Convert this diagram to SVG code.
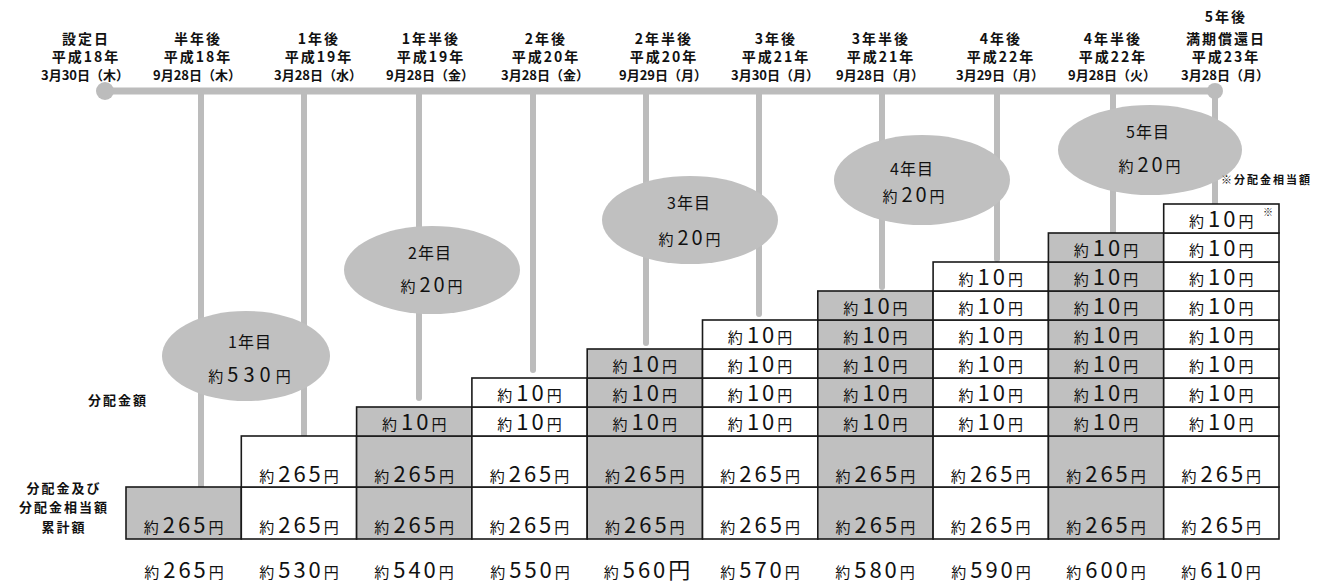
<svg xmlns="http://www.w3.org/2000/svg" width="1320" height="586" viewBox="0 0 1320 586">
<style>
text{font-family:"Noto Sans CJK JP","Noto Sans",sans-serif;fill:#111;text-anchor:middle}
.hd{font-size:14px;font-weight:bold;letter-spacing:2px}
.dt{font-size:13px;font-weight:bold}
.lb{font-size:13px;font-weight:bold;letter-spacing:2px}
.el{font-size:16px;letter-spacing:1px}
.k{font-size:15px}
.n{font-size:22px;letter-spacing:3px}
.tl{fill:none;stroke:#bcbcbc;stroke-width:6;stroke-linecap:round}
.g{fill:#c0c0c0;stroke:#1a1a1a;stroke-width:1.6}
.w{fill:#ffffff;stroke:#1a1a1a;stroke-width:1.6}
.ell{fill:#c0c0c0}
</style>

<g id="connectors">
  <line class="tl" x1="105" y1="91" x2="1215" y2="91" style="stroke-width:7"/>
  <line class="tl" x1="201" y1="91" x2="201" y2="487"/>
  <line class="tl" x1="304" y1="91" x2="304" y2="436"/>
  <line class="tl" x1="419" y1="91" x2="419" y2="398"/>
  <line class="tl" x1="533" y1="91" x2="533" y2="370"/>
  <line class="tl" x1="646" y1="91" x2="646" y2="343"/>
  <line class="tl" x1="759" y1="91" x2="759" y2="314"/>
  <line class="tl" x1="882" y1="91" x2="882" y2="287"/>
  <line class="tl" x1="997" y1="91" x2="997" y2="259"/>
  <line class="tl" x1="1113" y1="91" x2="1113" y2="233"/>
  <line class="tl" x1="1215" y1="91" x2="1215" y2="204"/>
  <circle cx="105" cy="91" r="9" fill="#bcbcbc"/>
  <circle cx="1215" cy="91" r="8" fill="#bcbcbc"/>
</g>

<g id="headers">
  <g id="h0"><text class="hd" x="86" y="44">設定日</text><text class="hd" x="86" y="62">平成18年</text><text class="dt" x="85" y="80">3月30日（木）</text></g>
  <g id="h1"><text class="hd" x="198" y="44">半年後</text><text class="hd" x="198" y="62">平成18年</text><text class="dt" x="197" y="80">9月28日（木）</text></g>
  <g id="h2"><text class="hd" x="319" y="44">1年後</text><text class="hd" x="319" y="62">平成19年</text><text class="dt" x="318" y="80">3月28日（水）</text></g>
  <g id="h3"><text class="hd" x="431" y="44">1年半後</text><text class="hd" x="431" y="62">平成19年</text><text class="dt" x="430" y="80">9月28日（金）</text></g>
  <g id="h4"><text class="hd" x="546" y="44">2年後</text><text class="hd" x="546" y="62">平成20年</text><text class="dt" x="545" y="80">3月28日（金）</text></g>
  <g id="h5"><text class="hd" x="664" y="44">2年半後</text><text class="hd" x="664" y="62">平成20年</text><text class="dt" x="663" y="80">9月29日（月）</text></g>
  <g id="h6"><text class="hd" x="776" y="44">3年後</text><text class="hd" x="776" y="62">平成21年</text><text class="dt" x="775" y="80">3月30日（月）</text></g>
  <g id="h7"><text class="hd" x="881" y="44">3年半後</text><text class="hd" x="881" y="62">平成21年</text><text class="dt" x="880" y="80">9月28日（月）</text></g>
  <g id="h8"><text class="hd" x="1001" y="44">4年後</text><text class="hd" x="1001" y="62">平成22年</text><text class="dt" x="1000" y="80">3月29日（月）</text></g>
  <g id="h9"><text class="hd" x="1113" y="44">4年半後</text><text class="hd" x="1113" y="62">平成22年</text><text class="dt" x="1112" y="80">9月28日（火）</text></g>
  <g id="h10"><text class="hd" x="1226" y="22">5年後</text><text class="hd" x="1226" y="44">満期償還日</text><text class="hd" x="1226" y="62">平成23年</text><text class="dt" x="1225" y="80">3月28日（月）</text></g>
</g>

<g id="ellipses">
  <g id="e1"><ellipse class="ell" cx="246" cy="356" rx="84" ry="45"/><text class="el" x="250" y="348">1年目</text><text class="el" x="250" y="382"><tspan class="k">約</tspan><tspan class="n" dx="3" style="font-size:20px;letter-spacing:5px">530</tspan><tspan class="k">円</tspan></text></g>
  <g id="e2"><ellipse class="ell" cx="432" cy="270" rx="88" ry="44"/><text class="el" x="430" y="259">2年目</text><text class="el" x="432" y="292"><tspan class="k">約</tspan><tspan style="font-size:20px;letter-spacing:3px" dx="3">20</tspan><tspan class="k">円</tspan></text></g>
  <g id="e3"><ellipse class="ell" cx="690" cy="220" rx="88" ry="44"/><text class="el" x="689" y="209">3年目</text><text class="el" x="690" y="245"><tspan class="k">約</tspan><tspan style="font-size:20px;letter-spacing:3px" dx="3">20</tspan><tspan class="k">円</tspan></text></g>
  <g id="e4"><ellipse class="ell" cx="922" cy="180" rx="88" ry="45"/><text class="el" x="912" y="175">4年目</text><text class="el" x="914" y="202"><tspan class="k">約</tspan><tspan style="font-size:20px;letter-spacing:3px" dx="3">20</tspan><tspan class="k">円</tspan></text></g>
  <g id="e5"><ellipse class="ell" cx="1150" cy="150" rx="92" ry="45"/><text class="el" x="1148" y="138">5年目</text><text class="el" x="1150" y="172"><tspan class="k">約</tspan><tspan style="font-size:20px;letter-spacing:3px" dx="3">20</tspan><tspan class="k">円</tspan></text></g>
</g>

<g id="labels">
  <text class="lb" x="118" y="405">分配金額</text>
  <text class="lb" x="64" y="493">分配金及び</text>
  <text class="lb" x="64" y="512">分配金相当額</text>
  <text class="lb" x="64" y="532">累計額</text>
  <text x="1221" y="184" style="font-size:11px;font-weight:bold;letter-spacing:2px;text-anchor:start">※分配金相当額</text>
</g>

<g id="grid">
  <g id="c0">
    <rect class="g" x="126" y="487" width="115.3" height="52"/>
    <text x="183.6" y="533"><tspan class="k">約</tspan><tspan class="n" dx="4">265</tspan><tspan class="k">円</tspan></text>
  </g>
  <g id="c1">
    <rect class="w" x="241.3" y="487" width="115.3" height="52"/>
    <rect class="w" x="241.3" y="436" width="115.3" height="51"/>
    <text x="299" y="533"><tspan class="k">約</tspan><tspan class="n" dx="4">265</tspan><tspan class="k">円</tspan></text>
    <text x="299" y="482"><tspan class="k">約</tspan><tspan class="n" dx="4">265</tspan><tspan class="k">円</tspan></text>
  </g>
  <g id="c2">
    <rect class="g" x="356.6" y="487" width="115.3" height="52"/>
    <rect class="g" x="356.6" y="436" width="115.3" height="51"/>
    <rect class="g" x="356.6" y="407" width="115.3" height="29"/>
    <text x="414.2" y="533"><tspan class="k">約</tspan><tspan class="n" dx="4">265</tspan><tspan class="k">円</tspan></text>
    <text x="414.2" y="482"><tspan class="k">約</tspan><tspan class="n" dx="4">265</tspan><tspan class="k">円</tspan></text>
    <text x="414.2" y="430"><tspan class="k">約</tspan><tspan class="n" dx="4">10</tspan><tspan class="k">円</tspan></text>
  </g>
  <g id="c3">
    <rect class="w" x="471.9" y="487" width="115.3" height="52"/>
    <rect class="w" x="471.9" y="436" width="115.3" height="51"/>
    <rect class="w" x="471.9" y="407" width="115.3" height="29"/>
    <rect class="w" x="471.9" y="378" width="115.3" height="29"/>
    <text x="529.5" y="533"><tspan class="k">約</tspan><tspan class="n" dx="4">265</tspan><tspan class="k">円</tspan></text>
    <text x="529.5" y="482"><tspan class="k">約</tspan><tspan class="n" dx="4">265</tspan><tspan class="k">円</tspan></text>
    <text x="529.5" y="430"><tspan class="k">約</tspan><tspan class="n" dx="4">10</tspan><tspan class="k">円</tspan></text>
    <text x="529.5" y="401"><tspan class="k">約</tspan><tspan class="n" dx="4">10</tspan><tspan class="k">円</tspan></text>
  </g>
  <g id="c4">
    <rect class="g" x="587.2" y="487" width="115.3" height="52"/>
    <rect class="g" x="587.2" y="436" width="115.3" height="51"/>
    <rect class="g" x="587.2" y="407" width="115.3" height="29"/>
    <rect class="g" x="587.2" y="378" width="115.3" height="29"/>
    <rect class="g" x="587.2" y="349" width="115.3" height="29"/>
    <text x="644.8" y="533"><tspan class="k">約</tspan><tspan class="n" dx="4">265</tspan><tspan class="k">円</tspan></text>
    <text x="644.8" y="482"><tspan class="k">約</tspan><tspan class="n" dx="4">265</tspan><tspan class="k">円</tspan></text>
    <text x="644.8" y="430"><tspan class="k">約</tspan><tspan class="n" dx="4">10</tspan><tspan class="k">円</tspan></text>
    <text x="644.8" y="401"><tspan class="k">約</tspan><tspan class="n" dx="4">10</tspan><tspan class="k">円</tspan></text>
    <text x="644.8" y="372"><tspan class="k">約</tspan><tspan class="n" dx="4">10</tspan><tspan class="k">円</tspan></text>
  </g>
  <g id="c5">
    <rect class="w" x="702.5" y="487" width="115.3" height="52"/>
    <rect class="w" x="702.5" y="436" width="115.3" height="51"/>
    <rect class="w" x="702.5" y="407" width="115.3" height="29"/>
    <rect class="w" x="702.5" y="378" width="115.3" height="29"/>
    <rect class="w" x="702.5" y="349" width="115.3" height="29"/>
    <rect class="w" x="702.5" y="320" width="115.3" height="29"/>
    <text x="760.1" y="533"><tspan class="k">約</tspan><tspan class="n" dx="4">265</tspan><tspan class="k">円</tspan></text>
    <text x="760.1" y="482"><tspan class="k">約</tspan><tspan class="n" dx="4">265</tspan><tspan class="k">円</tspan></text>
    <text x="760.1" y="430"><tspan class="k">約</tspan><tspan class="n" dx="4">10</tspan><tspan class="k">円</tspan></text>
    <text x="760.1" y="401"><tspan class="k">約</tspan><tspan class="n" dx="4">10</tspan><tspan class="k">円</tspan></text>
    <text x="760.1" y="372"><tspan class="k">約</tspan><tspan class="n" dx="4">10</tspan><tspan class="k">円</tspan></text>
    <text x="760.1" y="343"><tspan class="k">約</tspan><tspan class="n" dx="4">10</tspan><tspan class="k">円</tspan></text>
  </g>
  <g id="c6">
    <rect class="g" x="817.8" y="487" width="115.3" height="52"/>
    <rect class="g" x="817.8" y="436" width="115.3" height="51"/>
    <rect class="g" x="817.8" y="407" width="115.3" height="29"/>
    <rect class="g" x="817.8" y="378" width="115.3" height="29"/>
    <rect class="g" x="817.8" y="349" width="115.3" height="29"/>
    <rect class="g" x="817.8" y="320" width="115.3" height="29"/>
    <rect class="g" x="817.8" y="291" width="115.3" height="29"/>
    <text x="875.4" y="533"><tspan class="k">約</tspan><tspan class="n" dx="4">265</tspan><tspan class="k">円</tspan></text>
    <text x="875.4" y="482"><tspan class="k">約</tspan><tspan class="n" dx="4">265</tspan><tspan class="k">円</tspan></text>
    <text x="875.4" y="430"><tspan class="k">約</tspan><tspan class="n" dx="4">10</tspan><tspan class="k">円</tspan></text>
    <text x="875.4" y="401"><tspan class="k">約</tspan><tspan class="n" dx="4">10</tspan><tspan class="k">円</tspan></text>
    <text x="875.4" y="372"><tspan class="k">約</tspan><tspan class="n" dx="4">10</tspan><tspan class="k">円</tspan></text>
    <text x="875.4" y="343"><tspan class="k">約</tspan><tspan class="n" dx="4">10</tspan><tspan class="k">円</tspan></text>
    <text x="875.4" y="314"><tspan class="k">約</tspan><tspan class="n" dx="4">10</tspan><tspan class="k">円</tspan></text>
  </g>
  <g id="c7">
    <rect class="w" x="933.1" y="487" width="115.3" height="52"/>
    <rect class="w" x="933.1" y="436" width="115.3" height="51"/>
    <rect class="w" x="933.1" y="407" width="115.3" height="29"/>
    <rect class="w" x="933.1" y="378" width="115.3" height="29"/>
    <rect class="w" x="933.1" y="349" width="115.3" height="29"/>
    <rect class="w" x="933.1" y="320" width="115.3" height="29"/>
    <rect class="w" x="933.1" y="291" width="115.3" height="29"/>
    <rect class="w" x="933.1" y="262" width="115.3" height="29"/>
    <text x="990.7" y="533"><tspan class="k">約</tspan><tspan class="n" dx="4">265</tspan><tspan class="k">円</tspan></text>
    <text x="990.7" y="482"><tspan class="k">約</tspan><tspan class="n" dx="4">265</tspan><tspan class="k">円</tspan></text>
    <text x="990.7" y="430"><tspan class="k">約</tspan><tspan class="n" dx="4">10</tspan><tspan class="k">円</tspan></text>
    <text x="990.7" y="401"><tspan class="k">約</tspan><tspan class="n" dx="4">10</tspan><tspan class="k">円</tspan></text>
    <text x="990.7" y="372"><tspan class="k">約</tspan><tspan class="n" dx="4">10</tspan><tspan class="k">円</tspan></text>
    <text x="990.7" y="343"><tspan class="k">約</tspan><tspan class="n" dx="4">10</tspan><tspan class="k">円</tspan></text>
    <text x="990.7" y="314"><tspan class="k">約</tspan><tspan class="n" dx="4">10</tspan><tspan class="k">円</tspan></text>
    <text x="990.7" y="285"><tspan class="k">約</tspan><tspan class="n" dx="4">10</tspan><tspan class="k">円</tspan></text>
  </g>
  <g id="c8">
    <rect class="g" x="1048.4" y="487" width="115.3" height="52"/>
    <rect class="g" x="1048.4" y="436" width="115.3" height="51"/>
    <rect class="g" x="1048.4" y="407" width="115.3" height="29"/>
    <rect class="g" x="1048.4" y="378" width="115.3" height="29"/>
    <rect class="g" x="1048.4" y="349" width="115.3" height="29"/>
    <rect class="g" x="1048.4" y="320" width="115.3" height="29"/>
    <rect class="g" x="1048.4" y="291" width="115.3" height="29"/>
    <rect class="g" x="1048.4" y="262" width="115.3" height="29"/>
    <rect class="g" x="1048.4" y="233" width="115.3" height="29"/>
    <text x="1106" y="533"><tspan class="k">約</tspan><tspan class="n" dx="4">265</tspan><tspan class="k">円</tspan></text>
    <text x="1106" y="482"><tspan class="k">約</tspan><tspan class="n" dx="4">265</tspan><tspan class="k">円</tspan></text>
    <text x="1106" y="430"><tspan class="k">約</tspan><tspan class="n" dx="4">10</tspan><tspan class="k">円</tspan></text>
    <text x="1106" y="401"><tspan class="k">約</tspan><tspan class="n" dx="4">10</tspan><tspan class="k">円</tspan></text>
    <text x="1106" y="372"><tspan class="k">約</tspan><tspan class="n" dx="4">10</tspan><tspan class="k">円</tspan></text>
    <text x="1106" y="343"><tspan class="k">約</tspan><tspan class="n" dx="4">10</tspan><tspan class="k">円</tspan></text>
    <text x="1106" y="314"><tspan class="k">約</tspan><tspan class="n" dx="4">10</tspan><tspan class="k">円</tspan></text>
    <text x="1106" y="285"><tspan class="k">約</tspan><tspan class="n" dx="4">10</tspan><tspan class="k">円</tspan></text>
    <text x="1106" y="256"><tspan class="k">約</tspan><tspan class="n" dx="4">10</tspan><tspan class="k">円</tspan></text>
  </g>
  <g id="c9">
    <rect class="w" x="1163.7" y="487" width="115.3" height="52"/>
    <rect class="w" x="1163.7" y="436" width="115.3" height="51"/>
    <rect class="w" x="1163.7" y="407" width="115.3" height="29"/>
    <rect class="w" x="1163.7" y="378" width="115.3" height="29"/>
    <rect class="w" x="1163.7" y="349" width="115.3" height="29"/>
    <rect class="w" x="1163.7" y="320" width="115.3" height="29"/>
    <rect class="w" x="1163.7" y="291" width="115.3" height="29"/>
    <rect class="w" x="1163.7" y="262" width="115.3" height="29"/>
    <rect class="w" x="1163.7" y="233" width="115.3" height="29"/>
    <rect class="w" x="1163.7" y="204" width="115.3" height="29"/>
    <text x="1221.3" y="533"><tspan class="k">約</tspan><tspan class="n" dx="4">265</tspan><tspan class="k">円</tspan></text>
    <text x="1221.3" y="482"><tspan class="k">約</tspan><tspan class="n" dx="4">265</tspan><tspan class="k">円</tspan></text>
    <text x="1221.3" y="430"><tspan class="k">約</tspan><tspan class="n" dx="4">10</tspan><tspan class="k">円</tspan></text>
    <text x="1221.3" y="401"><tspan class="k">約</tspan><tspan class="n" dx="4">10</tspan><tspan class="k">円</tspan></text>
    <text x="1221.3" y="372"><tspan class="k">約</tspan><tspan class="n" dx="4">10</tspan><tspan class="k">円</tspan></text>
    <text x="1221.3" y="343"><tspan class="k">約</tspan><tspan class="n" dx="4">10</tspan><tspan class="k">円</tspan></text>
    <text x="1221.3" y="314"><tspan class="k">約</tspan><tspan class="n" dx="4">10</tspan><tspan class="k">円</tspan></text>
    <text x="1221.3" y="285"><tspan class="k">約</tspan><tspan class="n" dx="4">10</tspan><tspan class="k">円</tspan></text>
    <text x="1221.3" y="256"><tspan class="k">約</tspan><tspan class="n" dx="4">10</tspan><tspan class="k">円</tspan></text>
    <text x="1221.3" y="227"><tspan class="k">約</tspan><tspan class="n" dx="4">10</tspan><tspan class="k">円</tspan></text>
    <text x="1268" y="216" style="font-size:10px;font-weight:bold">※</text>
  </g>
</g>

<g id="totals">
  <text x="184" y="578"><tspan class="k">約</tspan><tspan class="n" dx="4">265</tspan><tspan class="k">円</tspan></text>
  <text x="299" y="578"><tspan class="k">約</tspan><tspan class="n" dx="4">530</tspan><tspan class="k">円</tspan></text>
  <text x="414" y="578"><tspan class="k">約</tspan><tspan class="n" dx="4">540</tspan><tspan class="k">円</tspan></text>
  <text x="530" y="578"><tspan class="k">約</tspan><tspan class="n" dx="4">550</tspan><tspan class="k">円</tspan></text>
  <text x="647" y="578"><tspan class="k">約</tspan><tspan class="n" dx="4">560</tspan><tspan style="font-size:22px">円</tspan></text>
  <text x="760" y="578"><tspan class="k">約</tspan><tspan class="n" dx="4">570</tspan><tspan class="k">円</tspan></text>
  <text x="875" y="578"><tspan class="k">約</tspan><tspan class="n" dx="4">580</tspan><tspan class="k">円</tspan></text>
  <text x="991" y="578"><tspan class="k">約</tspan><tspan class="n" dx="4">590</tspan><tspan class="k">円</tspan></text>
  <text x="1106" y="578"><tspan class="k">約</tspan><tspan class="n" dx="4">600</tspan><tspan class="k">円</tspan></text>
  <text x="1221" y="578"><tspan class="k">約</tspan><tspan class="n" dx="4">610</tspan><tspan class="k">円</tspan></text>
</g>
</svg>
